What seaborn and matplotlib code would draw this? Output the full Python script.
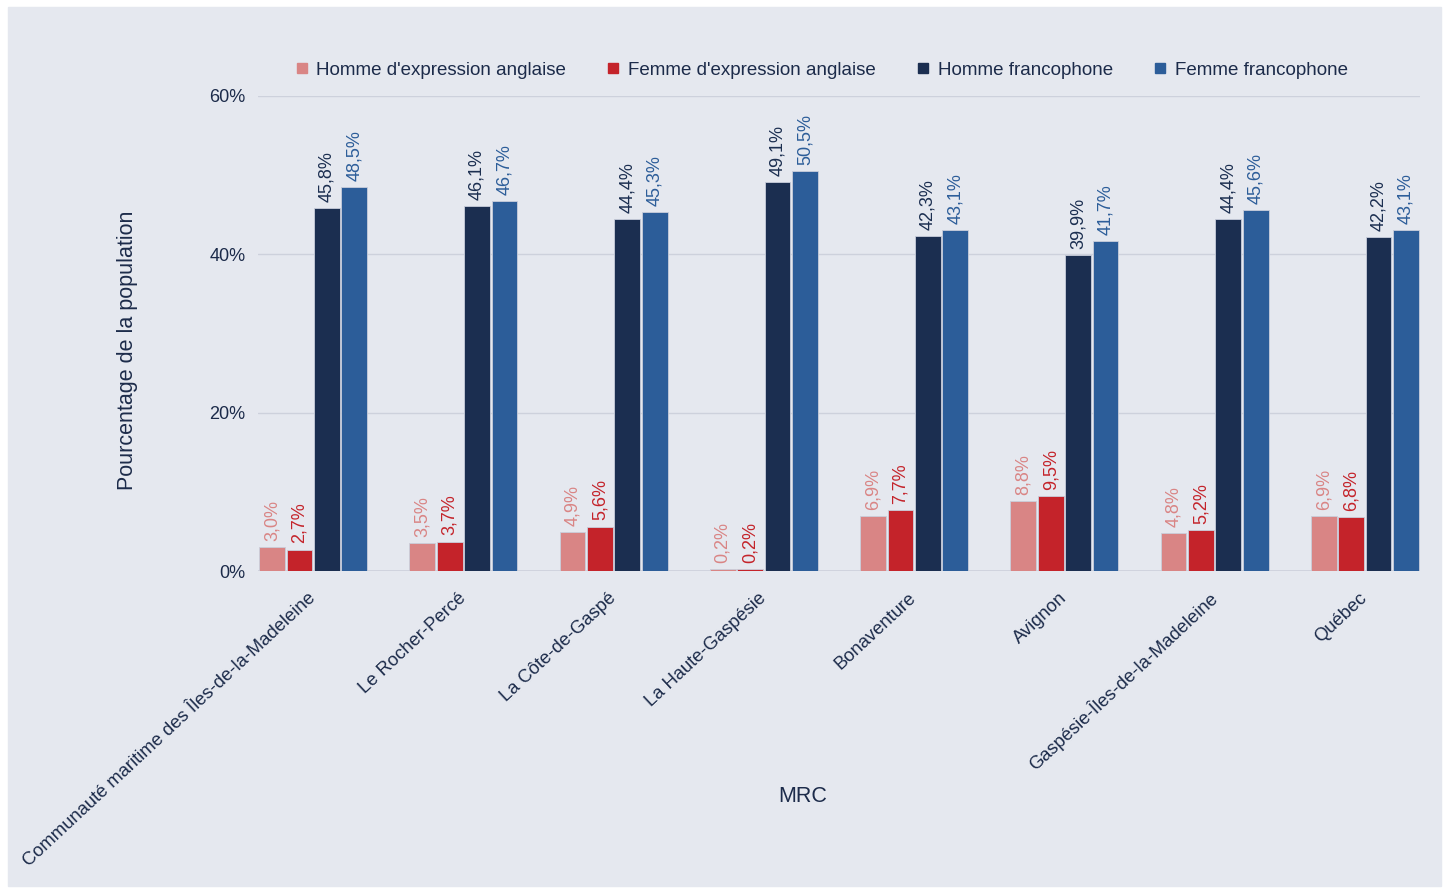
import numpy as np
import pandas as pd
import matplotlib
matplotlib.use('Agg')
import matplotlib.pyplot as plt
from matplotlib.lines import Line2D
from matplotlib.patches import Rectangle
import seaborn as sns

MRC = ['Communauté maritime des Îles-de-la-Madeleine', 'Le Rocher-Percé',
       'La Côte-de-Gaspé', 'La Haute-Gaspésie', 'Bonaventure', 'Avignon',
       'Gaspésie-Îles-de-la-Madeleine', 'Québec']
GROUPS = ["Homme d'expression anglaise", "Femme d'expression anglaise",
          'Homme francophone', 'Femme francophone']
HOMME_ANG = [3.0, 3.5, 4.9, 0.2, 6.9, 8.8, 4.8, 6.9]
FEMME_ANG = [2.7, 3.7, 5.6, 0.2, 7.7, 9.5, 5.2, 6.8]
HOMME_FR = [45.8, 46.1, 44.4, 49.1, 42.3, 39.9, 44.4, 42.2]
FEMME_FR = [48.5, 46.7, 45.3, 50.5, 43.1, 41.7, 45.6, 43.1]
COLORS = ['#d98585', '#c4232a', '#1b2e50', '#2c5d99']
Y_TICKS = [0, 20, 40, 60]

BG = '#e5e8ef'
TXT = '#1c2b4a'

rows = []
for grp, vals in zip(GROUPS, [HOMME_ANG, FEMME_ANG, HOMME_FR, FEMME_FR]):
    for m, v in zip(MRC, vals):
        rows.append({'MRC': m, 'groupe': grp, 'pct': v})
df = pd.DataFrame(rows)

sns.set_style('white')
plt.rcParams['font.family'] = ['Liberation Sans', 'DejaVu Sans']
plt.rcParams['text.color'] = TXT

fig = plt.figure(figsize=(14.47, 8.88), dpi=100, facecolor='white')
fig.patches.append(Rectangle((8 / 1447, 2 / 888), 1433 / 1447, 879 / 888,
                             transform=fig.transFigure, color=BG, zorder=-5))
ax = fig.add_axes([258 / 1447, 317 / 888, 1162 / 1447, 475 / 888])
ax.set_facecolor(BG)

sns.barplot(data=df, x='MRC', y='pct', hue='groupe', order=MRC,
            hue_order=GROUPS, palette=COLORS, width=0.73, gap=0.06,
            edgecolor='#c9cedb', linewidth=0.6, ax=ax, legend=False,
            errorbar=None, saturation=1)

for cont, col in zip(ax.containers, COLORS):
    labels = [f'{b.get_height():.1f}%'.replace('.', ',') for b in cont]
    ax.bar_label(cont, labels=labels, rotation=90, padding=4.5,
                 color=col, fontsize=13)

ax.set_ylim(0, 60)
ax.set_xlim(-0.367, 7.367)
ax.set_yticks(Y_TICKS)
ax.set_yticklabels([f'{t}%' for t in Y_TICKS])
ax.grid(axis='y', color='#cdd1dc', linewidth=1)
ax.set_axisbelow(True)
for s in ax.spines.values():
    s.set_visible(False)
ax.axhline(0, color='#cdd1dc', linewidth=1.2, zorder=0.5)

ax.tick_params(axis='y', length=0, pad=9, labelsize=13, labelcolor=TXT)
ax.tick_params(axis='x', length=0, pad=18, labelsize=13.2, labelcolor=TXT)
plt.setp(ax.get_xticklabels(), rotation=43, ha='right', va='center',
         rotation_mode='anchor')

ax.set_ylabel('Pourcentage de la population', fontsize=15.5, color=TXT)
ax.yaxis.set_label_coords(-0.103, 0.465)
ax.set_xlabel('MRC', fontsize=15.5, color=TXT)
ax.xaxis.set_label_coords(0.469, -0.452)

handles = [Line2D([0], [0], marker='s', linestyle='none', markersize=7,
                  markerfacecolor=c, markeredgecolor=c) for c in COLORS]
fig.legend(handles, GROUPS, loc='center', ncol=4,
           bbox_to_anchor=(820 / 1447, 818 / 888), frameon=False,
           fontsize=13.5, handletextpad=0.3, columnspacing=2.0,
           handlelength=1.0, labelcolor=TXT)

fig.savefig('out.png', dpi=100, facecolor='white')
